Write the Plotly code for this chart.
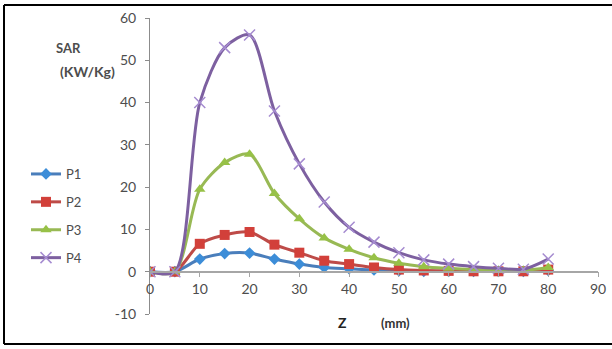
import plotly.graph_objects as go

z_mm = [0, 5, 10, 15, 20, 25, 30, 35, 40, 45, 50, 55, 60, 65, 70, 75, 80]
p1 = [0, 0, 3.0, 4.3, 4.4, 3.0, 1.8, 1.0, 0.7, 0.4, 0.2, 0.1, 0.1, 0.1, 0.1, 0.1, 0.3]
p2 = [0, 0, 6.6, 8.7, 9.4, 6.4, 4.5, 2.6, 1.8, 1.0, 0.5, 0.3, 0.2, 0.1, 0.1, 0.1, 0.5]
p3 = [0, 0, 19.5, 25.8, 27.8, 18.5, 12.5, 8.0, 5.3, 3.3, 2.0, 1.2, 0.8, 0.5, 0.3, 0.3, 1.0]
p4 = [0, 0, 40.0, 53.0, 56.0, 38.0, 25.5, 16.5, 10.5, 7.0, 4.5, 2.8, 1.8, 1.2, 0.8, 0.6, 3.0]
series_names = ["P1", "P2", "P3", "P4"]
x_ticks = [0, 10, 20, 30, 40, 50, 60, 70, 80, 90]
y_ticks = [-10, 0, 10, 20, 30, 40, 50, 60]
y_tick_labels = ["-10", "0", "10", "20", "30", "40", "50", "60"]

colors = ["#4A7EBB", "#BE4B48", "#98B954", "#7D60A0"]
marker_colors = ["#3C8DD8", "#D2403A", "#97C147", "#A58BD0"]
symbols = ["diamond", "square", "triangle-up", "x-thin"]
sizes = [9, 10, 10, 11]

L, R, T, B = 150, 14, 18, 35
W, H = 612, 349
PW, PH = W - L - R, H - T - B


def px(xp):
    return (xp - L) / PW


def py(yp):
    return (H - B - yp) / PH


fig = go.Figure()
for i, (name, vals) in enumerate(zip(series_names, [p1, p2, p3, p4])):
    mk = dict(symbol=symbols[i], size=sizes[i], color=marker_colors[i],
              line=dict(width=0))
    if symbols[i] == "x-thin":
        mk["line"] = dict(width=1.5, color=marker_colors[i])
    fig.add_trace(go.Scatter(
        x=z_mm, y=vals, name=name, mode="lines+markers",
        line=dict(color=colors[i], width=3, shape="spline", smoothing=0.8),
        marker=mk, legendgroup=name,
    ))

fig.update_layout(
    width=W, height=H,
    margin=dict(l=L, r=R, t=T, b=B, autoexpand=False),
    paper_bgcolor="white", plot_bgcolor="white",
    font=dict(family="Lato", size=13, color="#4D4D4D"),
    showlegend=True,
    legend=dict(x=px(26), y=py(159), xanchor="left", yanchor="top",
                bgcolor="rgba(0,0,0,0)", tracegroupgap=8,
                font=dict(size=13, color="#4D4D4D", family="Lato")),
    xaxis=dict(range=[0, 90], tickvals=x_ticks, showgrid=False, zeroline=False,
               showline=True, linecolor="#A6A6A6", linewidth=1.5,
               ticks="outside", ticklen=5, tickcolor="#A6A6A6",
               anchor="free", position=10 / 70,
               tickfont=dict(size=14, color="#4D4D4D")),
    yaxis=dict(range=[-10, 60], tickvals=y_ticks, ticktext=y_tick_labels,
               showgrid=False, zeroline=False,
               showline=True, linecolor="#8C8C8C", linewidth=1,
               ticks="outside", ticklen=4, tickcolor="#8C8C8C",
               ticklabelstandoff=6,
               tickfont=dict(size=14, color="#4D4D4D")),
)

fig.add_annotation(text="<b>SAR</b>", xref="paper", yref="paper",
                   x=px(54), y=py(38), showarrow=False,
                   font=dict(size=13, color="#4D4D4D", family="Lato"))
fig.add_annotation(text="<b>(KW/Kg)</b>", xref="paper", yref="paper",
                   x=px(58), y=py(61), showarrow=False,
                   font=dict(size=14, color="#4D4D4D", family="Lato"))
fig.add_annotation(text="<b>Z</b>", xref="paper", yref="paper",
                   x=px(342), y=py(333), showarrow=False,
                   font=dict(size=14, color="#222222", family="Lato"))
fig.add_annotation(text="<b>(mm)</b>", xref="paper", yref="paper",
                   x=px(395), y=py(333), showarrow=False,
                   font=dict(size=13, color="#333333", family="Lato"))

# page frame (left, top, bottom edges)
frame = dict(color="black", width=2)
fig.add_shape(type="line", xref="paper", yref="paper",
              x0=px(4), x1=px(4), y0=py(5), y1=py(344), line=frame)
fig.add_shape(type="line", xref="paper", yref="paper",
              x0=px(4), x1=px(640), y0=py(5), y1=py(5), line=frame)
fig.add_shape(type="line", xref="paper", yref="paper",
              x0=px(4), x1=px(640), y0=py(344), y1=py(344), line=frame)

fig.write_html("out.html", config={"displayModeBar": False},
               post_script="document.body.style.margin='0px';")
